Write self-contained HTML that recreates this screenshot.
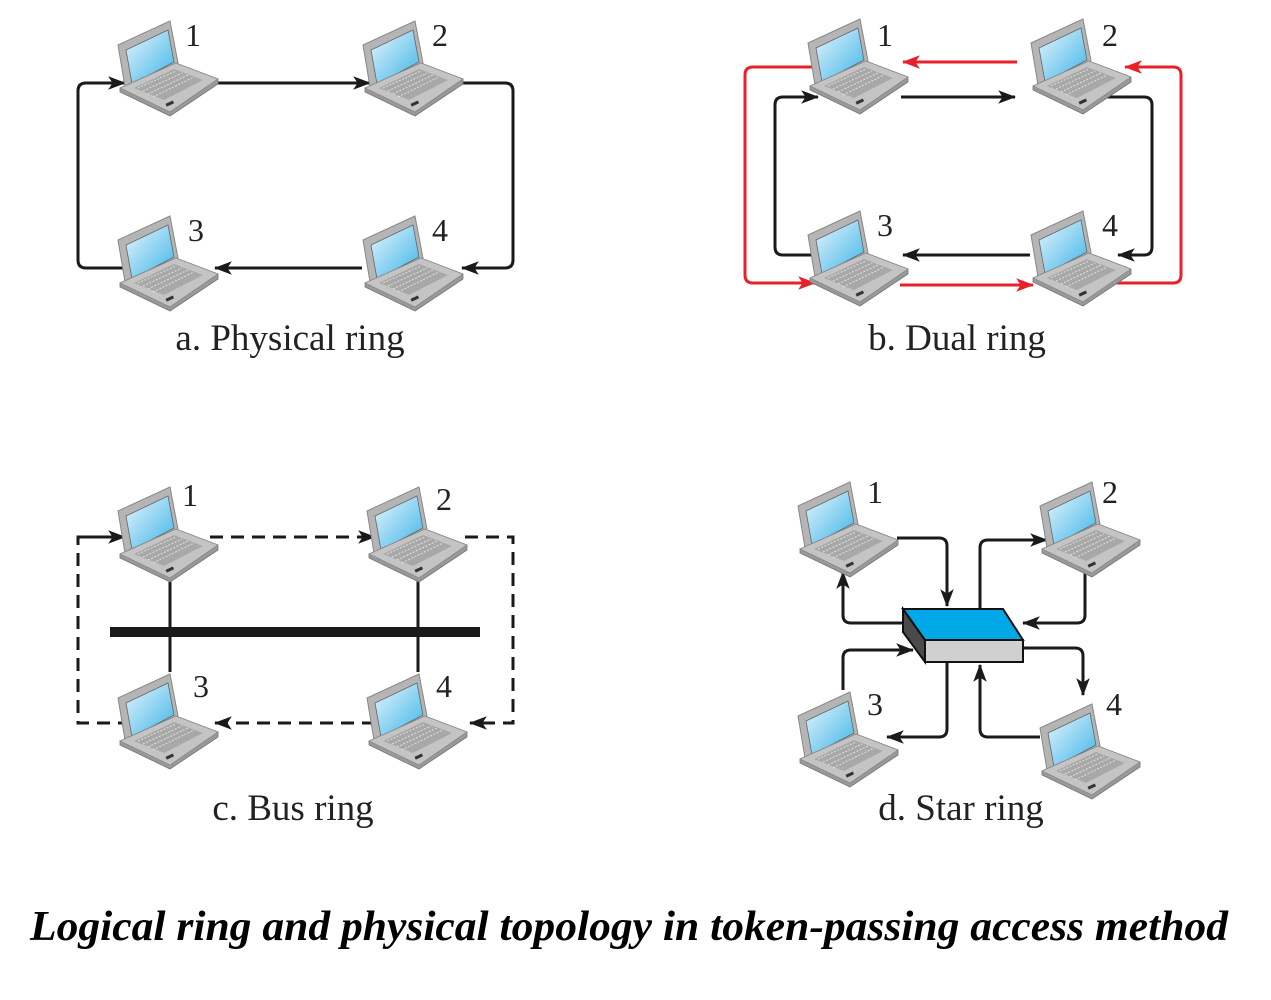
<!DOCTYPE html>
<html><head><meta charset="utf-8"><style>
html,body{margin:0;padding:0;background:#fff;}
svg{display:block;}
</style></head><body>
<svg width="1271" height="1000" viewBox="0 0 1271 1000" xmlns="http://www.w3.org/2000/svg">
<defs>
<linearGradient id="scr" x1="0" y1="0" x2="1" y2="1">
<stop offset="0" stop-color="#e8f6fd"/><stop offset="1" stop-color="#3cb4e8"/>
</linearGradient>
<symbol id="lap" overflow="visible">
<polygon points="2,30 54,6 62,48 10,78" fill="#b5b5b5" stroke="#888" stroke-width="1"/>
<polygon points="10,35 52,15 58,47 16,69" fill="url(#scr)" stroke="#666" stroke-width="0.8"/>
<polygon points="4,73 60,48 102,64 102,69 54,101 4,77" fill="#999" stroke="#777" stroke-width="0.8"/>
<polygon points="4,73 60,48 102,64 54,97" fill="#c4c4c4" stroke="#888" stroke-width="0.8"/>
<polygon points="18,73 58,54 87,65 48,85" fill="#a8a8a8"/>
<g stroke="#e0e0e0" stroke-width="1" stroke-dasharray="2 1.5">
<line x1="22" y1="73" x2="60" y2="56"/><line x1="27" y1="76" x2="66" y2="58"/>
<line x1="32" y1="79" x2="72" y2="60"/><line x1="37" y1="82" x2="78" y2="62"/>
</g>
<rect x="50" y="87" width="8" height="3" fill="#333" transform="rotate(-25 54 89)"/>
</symbol>
<marker id="ab" viewBox="0 0 16 12" refX="15" refY="6" markerWidth="18" markerHeight="14" markerUnits="userSpaceOnUse" orient="auto">
<path d="M0,0 L16,6 L0,12 L4,6 Z" fill="#1a1a1a"/></marker>
<marker id="ar" viewBox="0 0 16 12" refX="15" refY="6" markerWidth="18" markerHeight="14" markerUnits="userSpaceOnUse" orient="auto">
<path d="M0,0 L16,6 L0,12 L4,6 Z" fill="#e8202a"/></marker>
</defs>

<!-- a. Physical ring -->
<g fill="none" stroke="#1a1a1a" stroke-width="3" stroke-linejoin="round">
<path d="M218,83 H370" marker-end="url(#ab)"/>
<path d="M460,83 H505 Q513,83 513,91 V260 Q513,268 505,268 H462" marker-end="url(#ab)"/>
<path d="M362,268 H215" marker-end="url(#ab)"/>
<path d="M125,268 H86 Q78,268 78,260 V91 Q78,83 86,83 H125" marker-end="url(#ab)"/>
</g>
<use href="#lap" x="116" y="15"/><use href="#lap" x="361" y="15"/>
<use href="#lap" x="116" y="210"/><use href="#lap" x="361" y="210"/>

<!-- b. Dual ring -->
<g fill="none" stroke-width="3" stroke-linejoin="round">
<path d="M812,67 H753 Q745,67 745,75 V275 Q745,283 753,283 H815" stroke="#e8202a" marker-end="url(#ar)"/>
<path d="M1017,62 H903" stroke="#e8202a" marker-end="url(#ar)"/>
<path d="M900,285 H1033" stroke="#e8202a" marker-end="url(#ar)"/>
<path d="M1100,283 H1173 Q1181,283 1181,275 V75 Q1181,67 1173,67 H1125" stroke="#e8202a" marker-end="url(#ar)"/>
<path d="M901,97 H1015" stroke="#1a1a1a" marker-end="url(#ab)"/>
<path d="M1100,97 H1144 Q1152,97 1152,105 V247 Q1152,255 1144,255 H1118" stroke="#1a1a1a" marker-end="url(#ab)"/>
<path d="M1030,255 H903" stroke="#1a1a1a" marker-end="url(#ab)"/>
<path d="M820,255 H783 Q775,255 775,247 V105 Q775,97 783,97 H818" stroke="#1a1a1a" marker-end="url(#ab)"/>
</g>
<use href="#lap" x="806" y="13"/><use href="#lap" x="1029" y="13"/>
<use href="#lap" x="806" y="205"/><use href="#lap" x="1029" y="205"/>

<!-- c. Bus ring -->
<g fill="none" stroke="#1a1a1a" stroke-width="3" stroke-dasharray="13 8">
<path d="M125,537 H78 V723 H125"/>
<path d="M78,537 H125" marker-end="url(#ab)"/>
<path d="M210,537 H375" marker-end="url(#ab)"/>
<path d="M465,537 H513 V723 H470" marker-end="url(#ab)"/>
<path d="M375,723 H215" marker-end="url(#ab)"/>
</g>
<line x1="170" y1="575" x2="170" y2="672" stroke="#1a1a1a" stroke-width="3"/>
<line x1="418" y1="575" x2="418" y2="672" stroke="#1a1a1a" stroke-width="3"/>
<line x1="110" y1="632" x2="480" y2="632" stroke="#1a1a1a" stroke-width="10"/>
<use href="#lap" x="116" y="481"/><use href="#lap" x="365" y="481"/>
<use href="#lap" x="116" y="668"/><use href="#lap" x="365" y="668"/>

<!-- d. Star ring -->
<g fill="none" stroke="#1a1a1a" stroke-width="3" stroke-linejoin="round">
<path d="M897,538 H939 Q947,538 947,546 V606" marker-end="url(#ab)"/>
<path d="M903,623 H851 Q843,623 843,615 V572" marker-end="url(#ab)"/>
<path d="M980,608 V548 Q980,540 988,540 H1047" marker-end="url(#ab)"/>
<path d="M1085,570 V615 Q1085,623 1077,623 H1023" marker-end="url(#ab)"/>
<path d="M1023,648 H1075 Q1083,648 1083,656 V695" marker-end="url(#ab)"/>
<path d="M1040,737 H988 Q980,737 980,729 V665" marker-end="url(#ab)"/>
<path d="M947,662 V729 Q947,737 939,737 H887" marker-end="url(#ab)"/>
<path d="M843,690 V658 Q843,650 851,650 H913" marker-end="url(#ab)"/>
</g>
<polygon points="903,609 925,640 925,662 903,632" fill="#4a4a4a" stroke="#111" stroke-width="2"/>
<polygon points="925,640 1023,640 1023,662 925,662" fill="#d0d0d0" stroke="#111" stroke-width="2"/>
<polygon points="903,609 1003,609 1023,640 925,640" fill="#00a8e8" stroke="#111" stroke-width="2"/>
<use href="#lap" x="796" y="476"/><use href="#lap" x="1038" y="476"/>
<use href="#lap" x="796" y="686"/><use href="#lap" x="1038" y="698"/>

<!-- labels -->
<g font-family="Liberation Serif, serif" font-size="32" fill="#222">
<text x="185" y="46">1</text><text x="432" y="46">2</text>
<text x="188" y="241">3</text><text x="432" y="241">4</text>
<text x="877" y="46">1</text><text x="1102" y="46">2</text>
<text x="877" y="236">3</text><text x="1102" y="236">4</text>
<text x="182" y="506">1</text><text x="436" y="510">2</text>
<text x="193" y="697">3</text><text x="436" y="697">4</text>
<text x="867" y="503">1</text><text x="1102" y="503">2</text>
<text x="867" y="715">3</text><text x="1106" y="715">4</text>
</g>
<g font-family="Liberation Serif, serif" font-size="37" fill="#222" text-anchor="middle">
<text x="290" y="350">a. Physical ring</text>
<text x="957" y="350">b. Dual ring</text>
<text x="293" y="820">c. Bus ring</text>
<text x="961" y="820">d. Star ring</text>
</g>
<text x="30" y="940" font-family="Liberation Serif, serif" font-size="42" font-weight="bold" font-style="italic" fill="#000" textLength="1198" lengthAdjust="spacingAndGlyphs">Logical ring and physical topology in token-passing access method</text>
</svg>
</body></html>
